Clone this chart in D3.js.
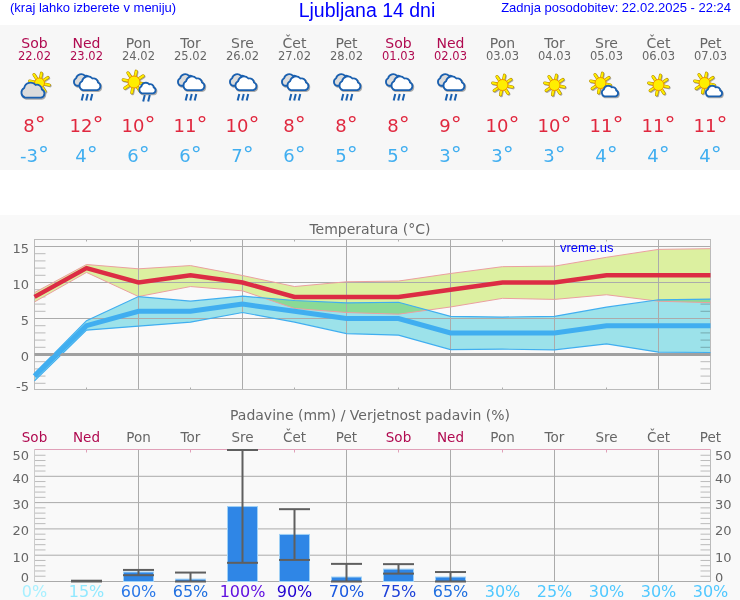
<!DOCTYPE html>
<html>
<head>
<meta charset="utf-8">
<script src="https://cdn.jsdelivr.net/npm/d3@7"></script>
<style>
  html, body { margin: 0; padding: 0; background: #fff; }
  svg { display: block; }
  text { font-family: "DejaVu Sans", sans-serif; }
  .arial { font-family: "Liberation Sans", Arial, sans-serif; }
  .axis .domain { display: none; }
  .axis text { display: none; }
</style>
</head>
<body>
<div id="chart"></div>
<script>
const dayNames = ['Sob', 'Ned', 'Pon', 'Tor', 'Sre', 'Čet', 'Pet', 'Sob', 'Ned', 'Pon', 'Tor', 'Sre', 'Čet', 'Pet'];
const dates = ['22.02', '23.02', '24.02', '25.02', '26.02', '27.02', '28.02', '01.03', '02.03', '03.03', '04.03', '05.03', '06.03', '07.03'];
const icons = ['sunGrey', 'rain', 'sunRain', 'rain', 'rain', 'rain', 'rain', 'rain', 'rain', 'sun', 'sun', 'sunCloud', 'sun', 'sunCloud'];

const tempMax = [8, 12, 10, 11, 10, 8, 8, 8, 9, 10, 10, 11, 11, 11];
const tempMin = [-3, 4, 6, 6, 7, 6, 5, 5, 3, 3, 3, 4, 4, 4];

// spread of the max and min temperature
const maxHigh = [8.6, 12.5, 11.9, 12.35, 10.97, 9.44, 10.1, 10.2, 11.25, 12.2, 12.27, 13.5, 14.6, 14.7];
const maxLow = [7.3, 11.4, 8.05, 9.44, 8.84, 6.4, 5.83, 5.6, 6.6, 7.8, 7.65, 8.3, 7.4, 7.2];
const minHigh = [-2.64, 4.7, 8.05, 7.4, 8.1, 7.5, 7.17, 7.26, 5.3, 5.2, 5.3, 6.57, 7.6, 7.7];
const minLow = [-3.67, 3.38, 3.93, 4.49, 5.83, 4.5, 2.9, 2.68, 0.69, 0.74, 0.65, 1.47, 0.32, 0.28];

const rain = [0, 0, 3.6, 0.9, 28.5, 17.9, 1.7, 4.7, 1.7, 0, 0, 0, 0, 0];
const rainHigh = [null, 0.3, 4.4, 3.4, 50, 27.5, 6.7, 6.6, 3.6, null, null, null, null, null];
const rainLow = [null, 0, 2.4, 0, 7.1, 8.2, 0, 3, 0, null, null, null, null, null];
const rainProb = [0, 15, 60, 65, 100, 90, 70, 75, 65, 30, 25, 30, 30, 30];

const tempTicks = [15, 10, 5, 0, -5];
const rainTicks = [50, 40, 30, 20, 10, 0];

const probColor = (p) => {
  if (p === 0) return '#a8f0ff';
  if (p === 15) return '#90e8ff';
  if (p <= 30) return '#50c8ff';
  if (p === 60) return '#2a78e8';
  if (p === 65) return '#2070e0';
  if (p === 70) return '#1858e0';
  if (p === 75) return '#1c40d8';
  if (p === 90) return '#2000d0';
  return '#6010e0';
};

const isWeekend = (i) => i % 7 < 2;
const dayColor = (i) => (isWeekend(i) ? '#b00a50' : '#666');

const svg = d3.select('#chart').append('svg').attr('width', 740).attr('height', 600);

svg.append('rect').attr('x', 0).attr('y', 25).attr('width', 740).attr('height', 145).attr('fill', '#f7f7f7');
svg.append('rect').attr('x', 0).attr('y', 215).attr('width', 740).attr('height', 385).attr('fill', '#f9f9f9');

const x = d3.scaleLinear().domain([0, 13]).range([34.5, 710.5]);
const yTemp = d3.scaleLinear().domain([-5, 15]).range([390.5, 246.5]);
const yRain = d3.scaleLinear().domain([0, 50]).range([581.5, 450]);
const allDays = d3.range(14);

// header
svg.append('text').attr('class', 'arial').attr('x', 10).attr('y', 12).attr('font-size', 13).attr('fill', '#0000ff').text('(kraj lahko izberete v meniju)');
svg.append('text').attr('class', 'arial').attr('x', 367).attr('y', 17).attr('text-anchor', 'middle').attr('font-size', 19.5).attr('fill', '#0000ff').text('Ljubljana 14 dni');
svg.append('text').attr('class', 'arial').attr('x', 731).attr('y', 12).attr('text-anchor', 'end').attr('font-size', 13).attr('fill', '#0000ff').text('Zadnja posodobitev: 22.02.2025 - 22:24');

const column = svg.selectAll('g.day').data(allDays).join('g').attr('class', 'day').attr('transform', (i) => `translate(${x(i)},0)`);
column.append('text').attr('y', 48).attr('text-anchor', 'middle').attr('font-size', 14).attr('fill', dayColor).text((i) => dayNames[i]);
column.append('text').attr('y', 60).attr('text-anchor', 'middle').attr('font-size', 11.5).attr('fill', dayColor).text((i) => dates[i]);

const tempLabel = (sel, y, color, vals) => {
  const t = sel.append('text').attr('y', y).attr('text-anchor', 'middle').attr('font-size', 18).attr('fill', color).text((i) => vals[i]);
  t.append('tspan').attr('font-size', 22).text('°');
};
tempLabel(column, 132, '#e0283f', tempMax);
tempLabel(column, 162, '#40aef0', tempMin);

// icons
const cloudPath = 'M-9,7 A6,6 0 0 1 -10,-4 A7.5,7.5 0 0 1 3,-7.5 A5.5,5.5 0 0 1 10,-2.5 A5,5 0 0 1 9,7 Z';

const drawCloud = (g, cx, cy, scale, fill) => {
  g.append('path').attr('d', cloudPath).attr('transform', `translate(${cx + 0.8},${cy + 1}) scale(${scale})`)
    .attr('fill', 'none').attr('stroke', '#aaa').attr('stroke-width', 2 / scale);
  g.append('path').attr('d', cloudPath).attr('transform', `translate(${cx},${cy}) scale(${scale})`)
    .attr('fill', fill).attr('stroke', '#1a60b0').attr('stroke-width', 1.8 / scale);
};

const drawSun = (g, cx, cy, r, len) => {
  d3.range(8).forEach((k) => {
    const a = (k * Math.PI) / 4 + 0.2;
    const seg = (off, color, w) => g.append('line')
      .attr('x1', cx + off + Math.cos(a) * r).attr('y1', cy + off + Math.sin(a) * r)
      .attr('x2', cx + off + Math.cos(a) * len).attr('y2', cy + off + Math.sin(a) * len)
      .attr('stroke', color).attr('stroke-width', w).attr('stroke-linecap', 'round');
    seg(0.8, '#aaa', 3.2);
    seg(0, '#b89000', 3.2);
    seg(0, '#ffee00', 2);
  });
  g.append('circle').attr('cx', cx).attr('cy', cy).attr('r', r).attr('fill', '#ffee00').attr('stroke', '#f09000').attr('stroke-width', 1);
};

const drawRain = (g, cx, cy, offsets) => {
  offsets.forEach((dx) => {
    g.append('line').attr('x1', cx + dx + 0.8).attr('y1', cy).attr('x2', cx + dx - 0.8).attr('y2', cy + 6.5)
      .attr('stroke', '#1a60b0').attr('stroke-width', 2);
  });
};

column.each(function (i) {
  const g = d3.select(this).append('g');
  const kind = icons[i];
  if (kind === 'sun') {
    drawSun(g, 0, 85, 5.5, 10);
  } else if (kind === 'sunGrey') {
    drawSun(g, 5, 83, 5, 10);
    drawCloud(g, -1.5, 91.5, 0.88, '#dcdcdc');
  } else if (kind === 'sunCloud') {
    drawSun(g, -6, 83, 5.5, 10);
    drawCloud(g, 3.5, 92, 0.62, '#fff');
  } else if (kind === 'sunRain') {
    drawSun(g, -4.5, 82, 6, 11);
    drawCloud(g, 9, 89, 0.62, '#fff');
    drawRain(g, 8, 95, [-2.5, 2.5]);
  } else {
    drawCloud(g, -3.6, 81, 0.68, '#dcdcdc');
    drawCloud(g, 3.5, 84.5, 0.8, '#fff');
    drawRain(g, 0.5, 94, [-4.5, 0, 4.5]);
  }
});

// temperature panel
svg.append('text').attr('x', 370).attr('y', 234).attr('text-anchor', 'middle').attr('font-size', 14).attr('fill', '#666').text('Temperatura (°C)');

const gridColor = '#ababab';
const styleAxis = (sel, color) => {
  sel.attr('class', 'axis');
  sel.selectAll('.tick line').attr('stroke', color);
};

const tempMinor = d3.range(-4, 16).filter((v) => v % 5 !== 0);
svg.append('g').attr('transform', 'translate(34.5,0)')
  .call(d3.axisLeft(yTemp).tickValues(tempMinor).tickSize(-11).offset(0)).call(styleAxis, '#bbb');
svg.append('g').attr('transform', 'translate(710.5,0)')
  .call(d3.axisRight(yTemp).tickValues(tempMinor).tickSize(-10).offset(0)).call(styleAxis, '#bbb');

const bandArea = (hi, lo) => d3.area().x((i) => x(i)).y0((i) => yTemp(lo[i])).y1((i) => yTemp(hi[i]));
const seriesLine = (vals) => d3.line().x((i) => x(i)).y((i) => yTemp(vals[i]));

svg.append('path').datum(allDays).attr('d', bandArea(maxHigh, maxLow)).attr('fill', '#dcf0a0');
svg.append('path').datum(allDays).attr('d', bandArea(minHigh, minLow)).attr('fill', '#a0e8f0').style('mix-blend-mode', 'multiply');

// gridlines lie over the bands
svg.append('g').attr('transform', 'translate(34.5,0)')
  .call(d3.axisLeft(yTemp).tickValues([15, 10, 5]).tickSize(-676).offset(0)).call(styleAxis, gridColor);
const xMajor = allDays.filter((i) => i % 2 === 0 && i > 0 && i < 13);
const xMinor = allDays.filter((i) => i % 2 === 1 && i < 13);
svg.append('g').attr('transform', 'translate(0,389.5)')
  .call(d3.axisBottom(x).tickValues(xMajor).tickSize(-150).offset(0)).call(styleAxis, gridColor);
svg.append('g').attr('transform', 'translate(0,239.5)')
  .call(d3.axisTop(x).tickValues(xMinor).tickSize(-2).offset(0)).call(styleAxis, gridColor);
svg.append('g').attr('transform', 'translate(0,389.5)')
  .call(d3.axisBottom(x).tickValues(xMinor).tickSize(-2).offset(0)).call(styleAxis, gridColor);

svg.append('rect').attr('x', x(0)).attr('y', 239.5).attr('width', x(13) - x(0)).attr('height', 150)
  .attr('fill', 'none').attr('stroke', '#bbb');

svg.append('path').datum(allDays).attr('d', seriesLine(maxHigh)).attr('fill', 'none').attr('stroke', '#eba0a0').attr('stroke-width', 1);
svg.append('path').datum(allDays).attr('d', seriesLine(maxLow)).attr('fill', 'none').attr('stroke', '#eba0a0').attr('stroke-width', 1);
svg.append('path').datum(allDays).attr('d', seriesLine(minHigh)).attr('fill', 'none').attr('stroke', '#40aef0').attr('stroke-width', 1.2);
svg.append('path').datum(allDays).attr('d', seriesLine(minLow)).attr('fill', 'none').attr('stroke', '#40aef0').attr('stroke-width', 1.2);

svg.append('line').attr('x1', x(0)).attr('x2', x(13)).attr('y1', yTemp(0)).attr('y2', yTemp(0)).attr('stroke', '#a0a0a0').attr('stroke-width', 3);

svg.append('path').datum(allDays).attr('d', seriesLine(tempMin)).attr('fill', 'none').attr('stroke', '#40aef0').attr('stroke-width', 5);
svg.append('path').datum(allDays).attr('d', seriesLine(tempMax)).attr('fill', 'none').attr('stroke', '#dc2c44').attr('stroke-width', 4.5);

svg.selectAll('text.tempTick').data(tempTicks).join('text').attr('class', 'tempTick')
  .attr('x', 29).attr('y', (v) => Math.min(yTemp(v) + 1.5, 386) + 5)
  .attr('text-anchor', 'end').attr('font-size', 13).attr('fill', '#666').text((v) => v);

svg.append('text').attr('class', 'arial').attr('x', 560).attr('y', 252).attr('font-size', 13).attr('fill', '#0000ff').text('vreme.us');

// precipitation panel
svg.append('text').attr('x', 370).attr('y', 420).attr('text-anchor', 'middle').attr('font-size', 14).attr('fill', '#666').text('Padavine (mm) / Verjetnost padavin (%)');

svg.selectAll('text.dayLabel').data(allDays).join('text').attr('class', 'dayLabel')
  .attr('x', (i) => x(i)).attr('y', 442).attr('text-anchor', 'middle').attr('font-size', 13.5)
  .attr('fill', dayColor).text((i) => dayNames[i]);

const rainMinor = d3.range(2, 50, 2).filter((v) => v % 10 !== 0);
svg.append('g').attr('transform', 'translate(34.5,0)')
  .call(d3.axisLeft(yRain).tickValues(rainMinor).tickSize(-11).offset(0)).call(styleAxis, '#bbb');
svg.append('g').attr('transform', 'translate(710.5,0)')
  .call(d3.axisRight(yRain).tickValues(rainMinor).tickSize(-10).offset(0)).call(styleAxis, '#bbb');
svg.append('g').attr('transform', 'translate(34.5,0)')
  .call(d3.axisLeft(yRain).tickValues([40, 30, 20, 10]).tickSize(-676).offset(0)).call(styleAxis, gridColor);
svg.append('g').attr('transform', 'translate(0,581.5)')
  .call(d3.axisBottom(x).tickValues(xMajor).tickSize(-132).offset(0)).call(styleAxis, gridColor);
svg.append('g').attr('transform', 'translate(0,449.5)')
  .call(d3.axisTop(x).tickValues(xMinor).tickSize(-3).offset(0)).call(styleAxis, '#e0a0b8');

svg.append('line').attr('x1', x(0)).attr('x2', x(0)).attr('y1', 449.5).attr('y2', 581.5).attr('stroke', '#ccc');
svg.append('line').attr('x1', x(13)).attr('x2', x(13)).attr('y1', 449.5).attr('y2', 581.5).attr('stroke', '#bbb');
svg.append('line').attr('x1', x(0)).attr('x2', x(13)).attr('y1', 449.5).attr('y2', 449.5).attr('stroke', '#e0a0b8');
svg.append('line').attr('x1', x(0)).attr('x2', x(13)).attr('y1', 581.5).attr('y2', 581.5).attr('stroke', '#aaa');

const barWidth = 30;
const capWidth = 31;
const wetDays = allDays.filter((i) => rain[i] > 0);
svg.selectAll('rect.bar').data(wetDays).join('rect').attr('class', 'bar')
  .attr('x', (i) => x(i) - barWidth / 2).attr('width', barWidth)
  .attr('y', (i) => yRain(rain[i])).attr('height', (i) => yRain(0) - yRain(rain[i]))
  .attr('fill', '#2f86e6').attr('stroke', '#9fd0f5');

const errDays = allDays.filter((i) => rainHigh[i] !== null);
const errColor = '#5f5f5f';
svg.selectAll('line.errStem').data(errDays).join('line').attr('class', 'errStem')
  .attr('x1', (i) => x(i)).attr('x2', (i) => x(i))
  .attr('y1', (i) => yRain(rainHigh[i])).attr('y2', (i) => yRain(rainLow[i]))
  .attr('stroke', errColor).attr('stroke-width', 2);
svg.selectAll('line.errTop').data(errDays).join('line').attr('class', 'errTop')
  .attr('x1', (i) => x(i) - capWidth / 2).attr('x2', (i) => x(i) + capWidth / 2)
  .attr('y1', (i) => yRain(rainHigh[i])).attr('y2', (i) => yRain(rainHigh[i]))
  .attr('stroke', errColor).attr('stroke-width', 2);
svg.selectAll('line.errBottom').data(errDays).join('line').attr('class', 'errBottom')
  .attr('x1', (i) => x(i) - capWidth / 2).attr('x2', (i) => x(i) + capWidth / 2)
  .attr('y1', (i) => yRain(rainLow[i])).attr('y2', (i) => yRain(rainLow[i]))
  .attr('stroke', errColor).attr('stroke-width', 2);

const rainLabelY = (v) => Math.max(Math.min(yRain(v) + 1.3, 577.3), 455) + 5;
svg.selectAll('text.rainTickL').data(rainTicks).join('text').attr('class', 'rainTickL')
  .attr('x', 29).attr('y', rainLabelY).attr('text-anchor', 'end').attr('font-size', 13).attr('fill', '#666').text((v) => v);
svg.selectAll('text.rainTickR').data(rainTicks).join('text').attr('class', 'rainTickR')
  .attr('x', 715).attr('y', rainLabelY).attr('font-size', 13).attr('fill', '#666').text((v) => v);

svg.selectAll('text.prob').data(allDays).join('text').attr('class', 'prob')
  .attr('x', (i) => x(i)).attr('y', 597).attr('text-anchor', 'middle').attr('font-size', 16)
  .attr('fill', (i) => probColor(rainProb[i])).text((i) => `${rainProb[i]}%`);
</script>
</body>
</html>
